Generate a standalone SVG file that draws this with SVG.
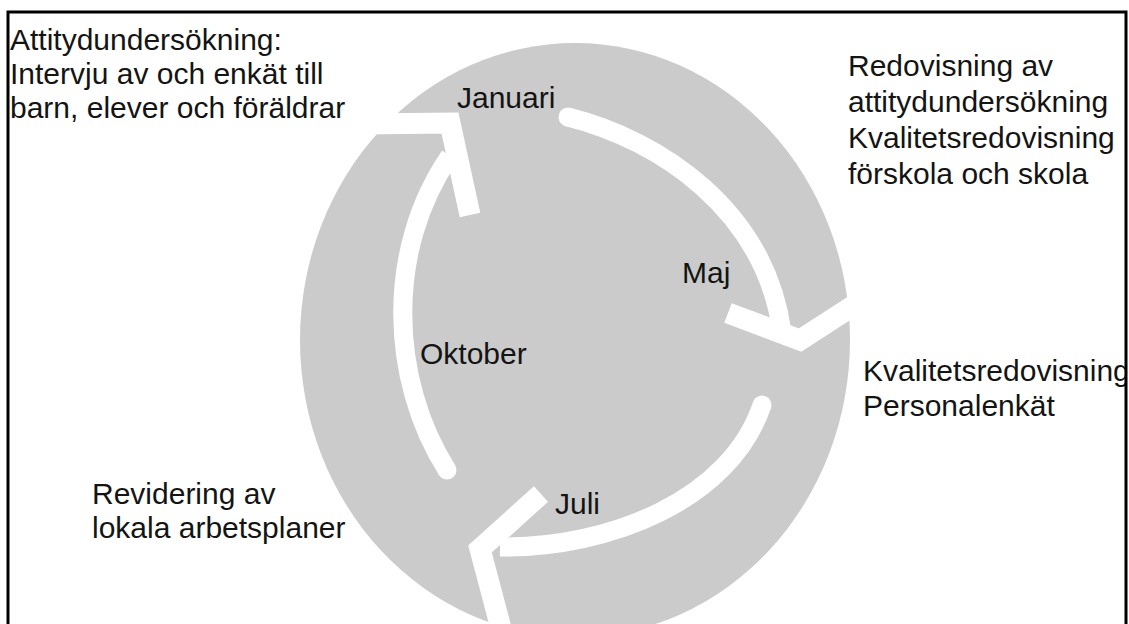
<svg xmlns="http://www.w3.org/2000/svg" width="1129" height="624" viewBox="0 0 1129 624">
<style>
  text { font-family: "Liberation Sans", Arial, sans-serif; font-size: 30px; fill: #141414; }
  .shaft { fill: none; stroke: #ffffff; stroke-width: 19; stroke-linecap: butt; }
  .tail { fill: #ffffff; }
  .head { fill: none; stroke: #ffffff; stroke-width: 21; stroke-linejoin: miter; stroke-linecap: butt; }
</style>
<defs>
  <clipPath id="inside"><rect x="0" y="0" width="1125" height="624"/></clipPath>
</defs>
<rect x="0" y="0" width="1129" height="624" fill="#ffffff"/>
<g id="ring">
  <ellipse cx="575" cy="340" rx="275" ry="297" fill="#cbcbcb"/>
</g>
<g id="connectors">
  <g id="arrow-januari-maj">
    <path class="shaft" d="M568,117 C660,140 765,210 782,332"/>
    <circle class="tail" cx="568" cy="117" r="9.5"/>
    <polyline class="head" points="728,313 800,340 862,300"/>
  </g>
  <g id="arrow-maj-juli">
    <path class="shaft" d="M762,405 C730,500 610,548 500,547"/>
    <circle class="tail" cx="762" cy="405" r="9.5"/>
    <polyline class="head" points="541,494 480,549 502,632"/>
  </g>
  <g id="arrow-oktober-januari">
    <path class="shaft" d="M447,470 C390,380 385,250 450,156"/>
    <circle class="tail" cx="447" cy="470" r="9.5"/>
    <polyline class="head" points="358,124 450,123 470,215"/>
  </g>
</g>
<g id="januari"><text x="457" y="108">Januari</text></g>
<g id="maj"><text x="682" y="283">Maj</text></g>
<g id="juli"><text x="555" y="514">Juli</text></g>
<g id="oktober"><text x="420" y="364">Oktober</text></g>
<g id="attityd">
  <text x="10" y="50">Attitydundersökning:</text>
  <text x="10" y="84">Intervju av och enkät till</text>
  <text x="10" y="118">barn, elever och föräldrar</text>
</g>
<g id="redovisning">
  <text x="848" y="76">Redovisning av</text>
  <text x="848" y="112">attitydundersökning</text>
  <text x="848" y="148">Kvalitetsredovisning</text>
  <text x="848" y="184">förskola och skola</text>
</g>
<g id="kvalitet" clip-path="url(#inside)">
  <text x="863" y="381">Kvalitetsredovisning</text>
  <text x="863" y="416">Personalenkät</text>
</g>
<g id="revidering">
  <text x="92" y="504">Revidering av</text>
  <text x="92" y="538">lokala arbetsplaner</text>
</g>
<g id="frame">
  <path d="M8,624 V12 H1126 V624" fill="none" stroke="#000" stroke-width="3"/>
</g>
</svg>
